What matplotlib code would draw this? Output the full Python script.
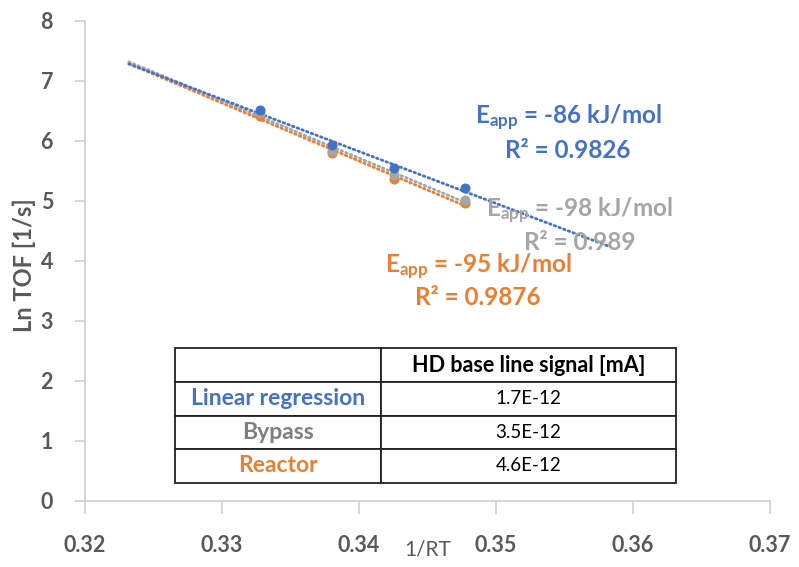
import numpy as np
import matplotlib
matplotlib.use("Agg")
import matplotlib.pyplot as plt

plt.rcParams['font.family'] = ['Lato', 'DejaVu Sans']
plt.rcParams['mathtext.fontset'] = 'custom'
plt.rcParams['mathtext.rm'] = 'Lato'
plt.rcParams['mathtext.bf'] = 'Lato:bold'
plt.rcParams['mathtext.it'] = 'Lato:italic'

# 1/RT values (mol/kJ) for the four temperatures
inv_rt = [0.33277, 0.33803, 0.34255, 0.34776]

# ln TOF for each evaluation method
ln_tof_linear = [6.51, 5.93, 5.54, 5.21]
ln_tof_bypass = [6.46, 5.83, 5.43, 5.02]
ln_tof_reactor = [6.41, 5.80, 5.37, 4.96]

series_names = ["Linear regression", "Bypass", "Reactor"]
eapp_labels = ["-86", "-98", "-95"]
r2_labels = ["0.9826", "0.989", "0.9876"]
baseline_signal = ["1.7E-12", "3.5E-12", "4.6E-12"]

x_ticks = [0.32, 0.33, 0.34, 0.35, 0.36, 0.37]
y_ticks = [0, 1, 2, 3, 4, 5, 6, 7, 8]

BLUE = "#4472C4"
GRAY = "#A5A5A5"
ORANGE = "#ED7D31"
AXIS_TEXT = "#595959"

fig = plt.figure(figsize=(7.99, 5.67), dpi=100)
ax = fig.add_axes([85 / 799, 1 - 500.7 / 567, 685 / 799, 480 / 567])

# trendline extents (backward / forward forecast)
trend_start = 0.3232
trend_end = {"Linear regression": 0.3583, "Bypass": 0.34776, "Reactor": 0.34776}

series = [
    ("Reactor", ln_tof_reactor, ORANGE),
    ("Bypass", ln_tof_bypass, GRAY),
    ("Linear regression", ln_tof_linear, BLUE),
]
for name, vals, col in series:
    slope, icpt = np.polyfit(inv_rt, vals, 1)
    xs = np.array([trend_start, trend_end[name]])
    ax.plot(xs, slope * xs + icpt, linestyle=(0, (0.6, 1.2)), color=col,
            linewidth=2.0, dash_capstyle='round', zorder=2)
for name, vals, col in series:
    ax.plot(inv_rt, vals, 'o', color=col, markersize=6.2, zorder=3)

# activation energy annotations
ann = [
    (BLUE, 0.35526, 6.29, 5.71, eapp_labels[0], r2_labels[0]),
    (GRAY, 0.35613, 4.733, 4.178, eapp_labels[1], r2_labels[1]),
    (ORANGE, 0.34869, 3.80, 3.262, eapp_labels[2], r2_labels[2]),
]
for col, xc, y1, y2, ea, r2 in ann:
    ax.text(xc, y1, r"$\mathbf{E}_{\mathbf{app}}$" + f" = {ea} kJ/mol", color=col,
            fontsize=17.5, fontweight='bold', ha='center', va='baseline', zorder=4)
    ax.text(xc, y2, f"R\u00b2 = {r2}", color=col, fontsize=17.5,
            fontweight='bold', ha='center', va='baseline', zorder=4)

ax.set_xlim(0.32, 0.37)
ax.set_ylim(0, 8)
ax.set_xticks(x_ticks)
ax.set_xticklabels([f"{v:.2f}" for v in x_ticks])
ax.set_yticks(y_ticks)
ax.set_yticklabels([str(v) for v in y_ticks])

for s in ("top", "right"):
    ax.spines[s].set_visible(False)
for s in ("left", "bottom"):
    ax.spines[s].set_color("#D0D0D0")
    ax.spines[s].set_linewidth(1.2)
ax.tick_params(axis='x', direction='out', length=9, width=1.2, color="#D0D0D0",
               pad=16, labelsize=15.5, labelcolor=AXIS_TEXT)
ax.tick_params(axis='y', direction='out', length=7, width=1.2, color="#D0D0D0",
               pad=16, labelsize=15.5, labelcolor=AXIS_TEXT)
for lab in ax.get_xticklabels() + ax.get_yticklabels():
    lab.set_fontweight('bold')

ax.set_ylabel("Ln TOF [1/s]", fontsize=17, fontweight='bold', color=AXIS_TEXT)
ax.yaxis.set_label_coords((24 - 85) / 685, 0.49)
ax.yaxis.label.set_va('center')
ax.set_xlabel("1/RT", fontsize=15, color=AXIS_TEXT)
ax.xaxis.set_label_coords(0.5, (500.7 - 550) / 480)
ax.xaxis.label.set_va('center')

# baseline signal table
cell_text = [["", "HD base line signal [mA]"]] + [[n, v] for n, v in zip(series_names, baseline_signal)]
tbl = ax.table(cellText=cell_text, cellLoc='center',
               colWidths=[206 / 501, 295 / 501],
               bbox=[(175 - 85) / 685, (500.7 - 482.7) / 480, 501 / 685, (482.7 - 348.3) / 480])
tbl.auto_set_font_size(False)
name_colors = [BLUE, "#7F7F7F", ORANGE]
for (r, c), cell in tbl.get_celld().items():
    cell.set_edgecolor("#222222")
    cell.set_linewidth(1.3)
    cell.set_facecolor("white")
    txt = cell.get_text()
    txt.set_fontsize(13.5)
    if r == 0:
        txt.set_fontweight('bold')
        txt.set_fontsize(15.5)
    elif c == 0:
        txt.set_fontweight('bold')
        txt.set_fontsize(16.5)
        txt.set_color(name_colors[r - 1])
tbl.set_zorder(5)

fig.savefig("out.png", dpi=100)
